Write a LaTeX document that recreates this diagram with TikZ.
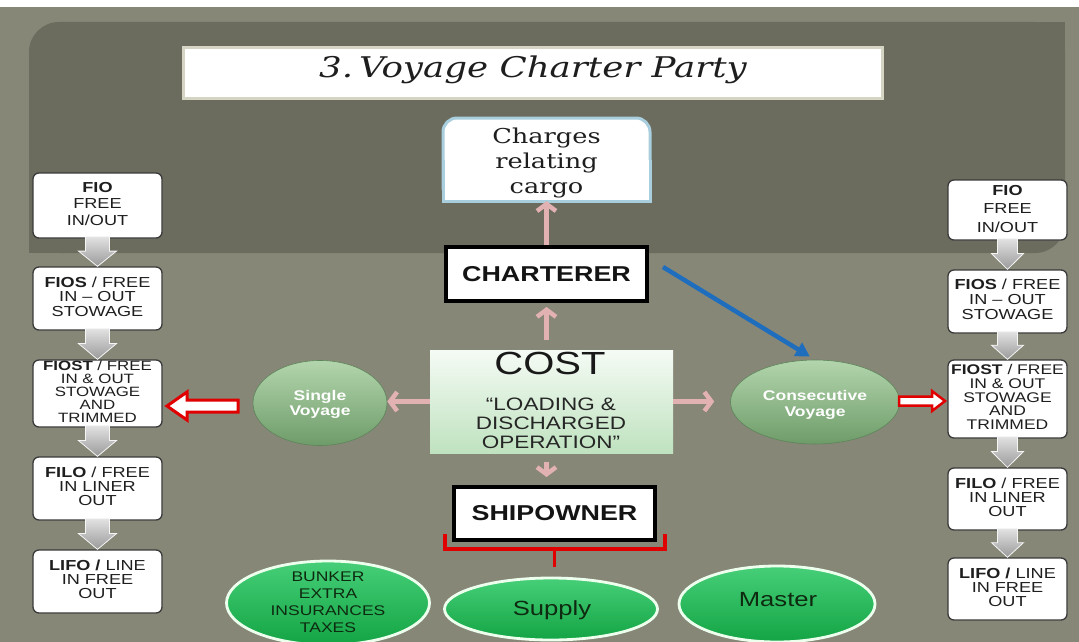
\documentclass[tikz,border=0pt]{standalone}
\usepackage{fontspec}
\usepackage{graphicx}
\setmainfont{Liberation Sans}
\newfontfamily\dser{DejaVu Serif}
\usetikzlibrary{arrows.meta,calc,shapes.geometric}
\definecolor{outerbg}{HTML}{878778}
\definecolor{innerbg}{HTML}{6B6B5E}
\definecolor{pinkc}{HTML}{E2B1B1}
\definecolor{bluec}{HTML}{1F6EBE}
\definecolor{redc}{HTML}{E00000}
\definecolor{boxedge}{HTML}{3A3A3A}
\definecolor{txt}{HTML}{1E1E1E}
\definecolor{titleedge}{HTML}{D6D4C2}
\definecolor{chedge}{HTML}{A9CFDE}
\definecolor{greentop}{HTML}{46CF78}
\definecolor{greenbot}{HTML}{13A444}
\definecolor{sagetop}{HTML}{B3D5AD}
\definecolor{sagebot}{HTML}{6E9C69}
\definecolor{costtop}{HTML}{F5FBF5}
\definecolor{costbot}{HTML}{BFE2BF}
\definecolor{greytop}{HTML}{E2E2E2}
\definecolor{greybot}{HTML}{9A9A9A}
\definecolor{darkgreen}{HTML}{0E2A10}
\newcommand\hsx[1]{\scalebox{1.25}[1]{#1}}
\newcommand\hs[2]{\scalebox{1.25}[1]{#1\begin{tabular}{@{}c@{}}#2\end{tabular}}}
\newcommand\fs[2]{\fontsize{#1}{#2}\selectfont}
\newcommand\garrow[4]{\path[garr] ($(#1.south)+(-#3,-2)$) -- ($(#1.south)+(#3,-2)$) -- ($(#1.south)!0.45!(#2.north)+(#3,0)$) -- ($(#1.south)!0.45!(#2.north)+(#4,0)$) -- (#2.north) -- ($(#1.south)!0.45!(#2.north)+(-#4,0)$) -- ($(#1.south)!0.45!(#2.north)+(-#3,0)$) -- cycle;}
\begin{document}
\begin{tikzpicture}[x=1pt,y=-1pt,
  lbox/.style={draw=boxedge,line width=1.3,fill=white,rounded corners=6,inner sep=0,minimum width=129,text=txt},
  rbox/.style={lbox,minimum width=119},
  garr/.style={top color=greytop,bottom color=greybot,draw=white!92!gray,line width=0.8},
  pinkarr/.style={draw=pinkc,line width=4.5,-{Straight Barb[length=7pt,width=19pt]}},
  blackbox/.style={draw=black,line width=4,fill=white,inner sep=0,minimum width=201,minimum height=54,text=black!92},
  vell/.style={ellipse,inner sep=0,top color=sagetop,bottom color=sagebot,draw=sagebot!85!black,line width=0.6},
  vtxt/.style={text=white},
  gell/.style={ellipse,inner sep=0,top color=greentop,bottom color=greenbot,draw=white!93!green,line width=2.8},
  harrow/.style={draw=redc,fill=white,line join=miter},
  bracket/.style={draw=redc,line width=3.5}]
\useasboundingbox (0,0) rectangle (1079,642);
% background
\fill[white] (0,0) rectangle (1079,642);
\fill[outerbg] (0,7) rectangle (1079,642);
\fill[innerbg,rounded corners=30] (29,22) rectangle (1065,253);
\fill[innerbg] (1000,22) rectangle (1065,100);
\fill[innerbg] (29,200) rectangle (100,253);
% title
\node[draw=titleedge,line width=3,fill=white,minimum width=699,minimum height=51,inner sep=0] (titlebox) at (533,73) {};
\node[anchor=base,text=txt] (title) at (533,77.5) {\hsx{\dser\itshape\fs{28.5}{32}3.\,Voyage Charter Party}};
% charges box
\draw[draw=chedge,line width=3,fill=white,rounded corners=14] (443,118) rectangle (650,201);
\fill[white] (443,160) rectangle (650,201);
\draw[chedge,line width=3] (443,160) -- (443,201) -- (650,201) -- (650,160);
\node[minimum width=207,minimum height=83,inner sep=0] (charges) at (546.5,159.5) {};
\node[text=txt] (chargestxt) at (546.5,163) {\hs{\dser\fs{20.5}{25}}{Charges\\relating\\cargo}};
% charterer, cost, shipowner
\node[blackbox] (charterer) at (546.5,274) {\hsx{\bfseries\fs{21.5}{24}CHARTERER}};
\node[top color=costtop,bottom color=costbot,minimum width=243,minimum height=103,inner sep=0] (cost) at (551.5,401.5) {};
\node[anchor=base,text=black!90] (costtitle) at (550,374) {\hsx{\fs{32}{34}COST}};
\node[text=black!85] (costsub) at (551,426) {\hs{\fs{18}{19}}{“LOADING \&\\DISCHARGED\\OPERATION”}};
\node[blackbox,minimum height=53] (ship) at (554.5,513.5) {\hsx{\bfseries\fs{21.5}{24}SHIPOWNER}};
% voyage ellipses
\node[vell,minimum width=134,minimum height=85] (sv) at (320,403) {};
\node[vtxt] (svtxt) at (320,404.5) {\hs{\bfseries\fs{14}{15}}{Single\\Voyage}};
\node[vell,minimum width=169,minimum height=84] (cv) at (815,402) {};
\node[vtxt] (cvtxt) at (815,405) {\hs{\bfseries\fs{14}{16}}{Consecutive\\Voyage}};
% green ellipses
\node[gell,minimum width=203,minimum height=84] (bunker) at (328,603) {};
\node[text=darkgreen] (bunkertxt) at (328,604) {\hs{\fs{14}{17}}{BUNKER\\EXTRA\\INSURANCES\\TAXES}};
\node[gell,minimum width=213,minimum height=62] (supply) at (551,609) {};
\node[text=darkgreen] (supplytxt) at (552,610) {\hsx{\fs{20.5}{24}Supply}};
\node[gell,minimum width=196,minimum height=76] (master) at (777,604) {};
\node[text=darkgreen] (mastertxt) at (778,600) {\hsx{\fs{20.5}{24}Master}};
% left column
\node[lbox,minimum height=65] (lfio) at (97.5,205.5) {\hs{\fs{14.5}{16.5}}{\textbf{FIO}\\FREE\\IN/OUT}};
\node[lbox,minimum height=63] (lfios) at (97.5,298.5) {\hs{\fs{14.5}{14.5}}{\textbf{FIOS} / FREE\\IN – OUT\\STOWAGE}};
\node[lbox,minimum height=67] (lfiost) at (97.5,393.5) {\hs{\fs{13.5}{12.5}}{\textbf{FIOST} / FREE\\IN \& OUT\\STOWAGE\\AND\\TRIMMED}};
\node[lbox,minimum height=63] (lfilo) at (97.5,488.5) {\hs{\fs{14.5}{13.5}}{\textbf{FILO} / FREE\\IN LINER\\OUT}};
\node[lbox,minimum height=63] (llifo) at (97.5,581.5) {\hs{\fs{14.5}{13.5}}{\textbf{LIFO /} LINE\\IN FREE\\OUT}};
% right column
\node[rbox,minimum height=60] (rfio) at (1007.5,210) {\hs{\fs{14.5}{18.5}}{\textbf{FIO}\\FREE\\IN/OUT}};
\node[rbox,minimum height=63] (rfios) at (1007.5,301.5) {\hs{\fs{14.5}{15}}{\textbf{FIOS} / FREE\\IN – OUT\\STOWAGE}};
\node[rbox,minimum height=78] (rfiost) at (1007.5,399) {\hs{\fs{14}{13.8}}{\textbf{FIOST} / FREE\\IN \& OUT\\STOWAGE\\AND\\TRIMMED}};
\node[rbox,minimum height=62] (rfilo) at (1007.5,499) {\hs{\fs{14.5}{13.5}}{\textbf{FILO} / FREE\\IN LINER\\OUT}};
\node[rbox,minimum height=62] (rlifo) at (1007.5,589) {\hs{\fs{14.5}{13.5}}{\textbf{LIFO /} LINE\\IN FREE\\OUT}};
% grey arrows
\garrow{lfio}{lfios}{12}{19}
\garrow{lfios}{lfiost}{12}{19}
\garrow{lfiost}{lfilo}{12}{19}
\garrow{lfilo}{llifo}{12}{19}
\garrow{rfio}{rfios}{10}{16}
\garrow{rfios}{rfiost}{10}{16}
\garrow{rfiost}{rfilo}{10}{16}
\garrow{rfilo}{rlifo}{10}{16}
% pink arrows
\draw[pinkarr] (charterer.north) -- (charges.south);
\draw[pinkarr,shorten <=10,shorten >=4] (cost.north -| charterer.north) -- (charterer.south);
\draw[pinkarr,shorten <=9,shorten >=8] (cost.south -| charterer.south) -- (ship.north -| charterer.south);
\draw[pinkarr] (cost.west) -- (cost.west -| sv.east);
\draw[pinkarr,shorten >=16] (cost.east) -- (cost.east -| cv.west);
% blue arrow
\coordinate (bstart) at ($(charterer.east)+(14,-7)$);
\draw[bluec,line width=4.5,-{Triangle[length=14pt,width=15pt]},shorten >=6] (bstart) -- (cv.north);
% red bracket
\draw[bracket] ($(ship.south west)+(-7,-8)$) -- ++(0,15) -| ($(ship.south east)+(8,-8)$);
\draw[bracket] ($(ship.south)+(0,7)$) -- ($(ship.south)+(0,25)$);
% red hollow arrows
\coordinate (ltip) at (167,406);
\coordinate (ltail) at (238,406);
\path[harrow,line width=3] let \p1=(ltip),\p2=(ltail) in (\p1) -- (\x1+20pt,\y1+14pt) -- (\x1+20pt,\y1+6pt) -- (\x2,\y1+6pt) -- (\x2,\y1-6pt) -- (\x1+20pt,\y1-6pt) -- (\x1+20pt,\y1-14pt) -- cycle;
\coordinate (rtip) at (945,401);
\coordinate (rtail) at (899,401);
\path[harrow,line width=2.5] let \p1=(rtip),\p2=(rtail) in (\p1) -- (\x1-13pt,\y1+10pt) -- (\x1-13pt,\y1+4.5pt) -- (\x2,\y1+4.5pt) -- (\x2,\y1-4.5pt) -- (\x1-13pt,\y1-4.5pt) -- (\x1-13pt,\y1-10pt) -- cycle;
\end{tikzpicture}
\end{document}
